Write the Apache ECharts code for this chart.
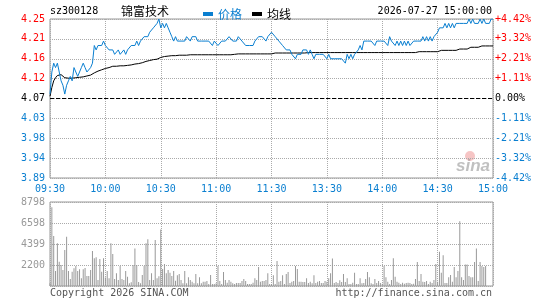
<!DOCTYPE html>
<html lang="en">
<head>
<meta charset="UTF-8">
<title>sz300128 分时</title>
<script src="https://cdn.jsdelivr.net/npm/echarts/dist/echarts.min.js"></script>
<style>
    body { margin: 0; background: #fff; }
    #chart { width: 545px; height: 300px; }
</style>
</head>
<body>
<div id="chart"></div>
<script>
// previous close and one grid step (price units)
var prevClose = 4.07;
var step = 0.045;

var priceTicks = ['3.89', '3.94', '3.98', '4.03', '4.07', '4.12', '4.16', '4.21', '4.25'];
var pctTicks = ['-4.42%', '-3.32%', '-2.21%', '-1.11%', '0.00%', '+1.11%', '+2.21%', '+3.32%', '+4.42%'];
var volTicks = ['', '2200', '4399', '6598', '8798'];

// last price per minute, 09:30 .. 15:00
var prices = [
    4.08,4.13,4.15,4.14,4.15,4.15,4.11,4.10,4.08,4.10,
    4.11,4.12,4.11,4.14,4.13,4.12,4.13,4.14,4.15,4.14,
    4.13,4.13,4.14,4.15,4.19,4.18,4.19,4.19,4.19,4.20,
    4.19,4.19,4.18,4.18,4.18,4.17,4.17,4.18,4.17,4.17,
    4.18,4.17,4.18,4.18,4.19,4.19,4.19,4.20,4.19,4.20,
    4.20,4.21,4.21,4.21,4.22,4.22,4.23,4.23,4.24,4.25,
    4.23,4.24,4.23,4.24,4.23,4.22,4.21,4.20,4.21,4.20,
    4.20,4.20,4.20,4.20,4.21,4.21,4.20,4.21,4.21,4.21,
    4.20,4.20,4.20,4.20,4.20,4.20,4.20,4.20,4.19,4.20,
    4.20,4.19,4.19,4.20,4.20,4.20,4.20,4.21,4.21,4.20,
    4.20,4.20,4.21,4.21,4.20,4.20,4.19,4.19,4.19,4.19,
    4.19,4.20,4.20,4.21,4.21,4.21,4.21,4.20,4.21,4.21,
    4.22,4.22,4.21,4.21,4.20,4.20,4.19,4.19,4.18,4.18,
    4.18,4.17,4.17,4.16,4.17,4.17,4.17,4.18,4.18,4.18,
    4.17,4.18,4.17,4.16,4.17,4.17,4.17,4.17,4.17,4.17,
    4.16,4.17,4.16,4.16,4.16,4.16,4.16,4.16,4.16,4.16,
    4.15,4.17,4.16,4.17,4.16,4.17,4.17,4.18,4.19,4.18,
    4.20,4.20,4.20,4.20,4.20,4.20,4.19,4.20,4.20,4.20,
    4.20,4.20,4.20,4.19,4.21,4.20,4.20,4.19,4.20,4.19,
    4.20,4.19,4.20,4.19,4.20,4.19,4.19,4.20,4.20,4.20,
    4.20,4.20,4.21,4.20,4.21,4.20,4.21,4.20,4.21,4.21,
    4.22,4.23,4.23,4.23,4.24,4.23,4.24,4.23,4.24,4.23,
    4.24,4.24,4.24,4.24,4.24,4.24,4.24,4.25,4.24,4.25,
    4.24,4.24,4.24,4.25,4.24,4.25,4.24,4.24,4.24,4.25,
    4.25
];

// average price line
var avgPrices = [
    4.075,4.095,4.110,4.117,4.122,4.124,4.124,4.120,4.117,4.116,
    4.116,4.116,4.116,4.117,4.117,4.117,4.118,4.118,4.119,4.120,
    4.121,4.122,4.123,4.125,4.128,4.131,4.132,4.134,4.135,4.137,
    4.138,4.139,4.140,4.142,4.143,4.143,4.143,4.144,4.144,4.144,
    4.144,4.145,4.145,4.145,4.146,4.147,4.148,4.149,4.149,4.150,
    4.151,4.152,4.154,4.155,4.156,4.156,4.158,4.159,4.159,4.161,
    4.163,4.164,4.165,4.165,4.166,4.166,4.167,4.167,4.167,4.168,
    4.168,4.168,4.168,4.168,4.168,4.168,4.169,4.169,4.169,4.169,
    4.169,4.169,4.169,4.169,4.169,4.169,4.169,4.169,4.169,4.169,
    4.169,4.169,4.169,4.169,4.169,4.169,4.169,4.169,4.169,4.169,
    4.170,4.170,4.171,4.171,4.171,4.171,4.171,4.171,4.171,4.171,
    4.171,4.171,4.171,4.171,4.171,4.171,4.171,4.171,4.171,4.171,
    4.171,4.172,4.173,4.173,4.173,4.173,4.173,4.173,4.173,4.173,
    4.173,4.173,4.173,4.173,4.173,4.173,4.173,4.173,4.173,4.173,
    4.174,4.174,4.174,4.174,4.174,4.174,4.174,4.174,4.174,4.174,
    4.174,4.174,4.174,4.174,4.174,4.174,4.174,4.174,4.174,4.174,
    4.174,4.174,4.174,4.174,4.174,4.174,4.174,4.174,4.174,4.174,
    4.174,4.174,4.174,4.174,4.174,4.174,4.174,4.174,4.174,4.174,
    4.174,4.174,4.174,4.174,4.174,4.174,4.174,4.174,4.174,4.174,
    4.174,4.174,4.174,4.174,4.174,4.174,4.174,4.174,4.174,4.174,
    4.176,4.176,4.176,4.176,4.176,4.176,4.176,4.176,4.176,4.176,
    4.176,4.179,4.179,4.179,4.179,4.179,4.179,4.179,4.179,4.179,
    4.179,4.179,4.182,4.182,4.182,4.182,4.182,4.186,4.186,4.186,
    4.186,4.186,4.186,4.186,4.189,4.189,4.189,4.189,4.189,4.189,
    4.189
];

// volume per minute (lots)
var volumes = [
    280,8240,5240,1570,4470,2550,2200,1680,3770,5170,
    1570,730,1500,1850,2090,1570,1750,800,1750,1880,
    1050,1050,1680,3660,2900,3000,630,2830,1500,2900,
    900,1570,800,4470,3350,730,1330,630,2090,730,
    630,1570,980,280,400,2200,3940,2200,420,280,
    1150,2090,4470,4890,630,1330,630,4820,800,1010,
    5930,1780,2300,1330,1680,1400,1050,1570,560,1120,
    1260,630,280,1570,280,910,630,450,280,1260,
    280,910,280,450,450,520,200,1150,210,210,
    280,2090,520,210,1470,630,350,630,450,280,
    210,310,310,310,520,730,520,210,210,210,
    350,800,630,1990,450,520,520,630,1330,210,
    210,1120,200,2620,450,520,1120,210,1260,1470,
    310,450,520,2090,1780,450,450,420,420,800,
    310,450,300,1120,310,450,520,310,310,520,
    450,800,1330,2890,310,420,310,590,420,1260,
    420,800,210,210,350,1400,200,210,800,280,
    310,730,1470,910,280,210,730,310,520,310,
    240,2090,910,450,210,630,2900,980,450,350,
    210,350,240,310,350,310,200,240,730,2510,
    520,1260,450,420,520,210,450,310,630,2300,
    450,3600,1400,3230,310,310,910,1150,450,2000,
    910,1570,6770,910,630,2240,2240,1050,910,910,
    2510,3940,520,2510,2090,2000,2090,0,0,0,
    0
];

// minute labels: 09:30-11:30, 13:01-15:00
function pad(n) { return (n < 10 ? '0' : '') + n; }
var times = [];
for (var t = 9 * 60 + 30; t <= 11 * 60 + 30; t++) times.push(pad(Math.floor(t / 60)) + ':' + pad(t % 60));
for (var t = 13 * 60 + 1; t <= 15 * 60; t++) times.push(pad(Math.floor(t / 60)) + ':' + pad(t % 60));

var RED = '#ff0000', BLUE = '#0a7fd0', GRAY = '#aaaaaa';
var MONO = 'DejaVu Sans Mono';
var CJK = 'Noto Sans CJK SC';

function toStep(p) { return (p - prevClose) / step; }
function sideColor(v) {
    var k = Math.round(v);
    return k > 0 ? RED : (k < 0 ? BLUE : '#000');
}

var dotted = { show: true, interval: 29, lineStyle: { color: GRAY, type: 'dotted', width: 1 } };

var chart = echarts.init(document.getElementById('chart'));
chart.setOption({
    animation: false,
    legend: {
        left: 198, top: 3,
        itemWidth: 10, itemHeight: 4, itemGap: 10,
        icon: 'rect',
        textStyle: { fontFamily: CJK, fontSize: 12 },
        data: [
            { name: '价格', textStyle: { color: BLUE } },
            { name: '均线', textStyle: { color: '#000' } }
        ]
    },
    grid: [
        { left: 50, right: 52, top: 19, height: 159, show: true, borderColor: '#999', borderWidth: 1 },
        { left: 50, right: 52, top: 202, height: 84, show: true, borderColor: '#999', borderWidth: 1 }
    ],
    xAxis: [
        {
            gridIndex: 0, type: 'category', data: times, boundaryGap: false,
            axisLine: { show: false }, axisTick: { show: false },
            axisLabel: { interval: 29, color: BLUE, fontFamily: MONO, fontSize: 10, margin: 6 },
            splitLine: dotted
        },
        {
            gridIndex: 1, type: 'category', data: times, boundaryGap: false,
            axisLine: { show: false }, axisTick: { show: false },
            axisLabel: { show: false },
            splitLine: dotted
        }
    ],
    yAxis: [
        {
            gridIndex: 0, type: 'value', min: -4, max: 4, interval: 1,
            axisLine: { show: false }, axisTick: { show: false },
            axisLabel: {
                margin: 5, fontFamily: MONO, fontSize: 10,
                formatter: function (v) { return priceTicks[Math.round(v) + 4]; },
                color: sideColor
            },
            splitLine: { lineStyle: { color: GRAY, type: 'dotted' } }
        },
        {
            gridIndex: 0, type: 'value', min: -4, max: 4, interval: 1, position: 'right',
            axisLine: { show: false }, axisTick: { show: false },
            axisLabel: {
                margin: 2, fontFamily: MONO, fontSize: 10,
                formatter: function (v) { return pctTicks[Math.round(v) + 4]; },
                color: sideColor
            },
            splitLine: { show: false }
        },
        {
            gridIndex: 1, type: 'value', min: 0, max: 8798, interval: 2199.5,
            axisLine: { show: false }, axisTick: { show: false },
            axisLabel: {
                margin: 5, fontFamily: MONO, fontSize: 10, color: '#999',
                formatter: function (v) { return volTicks[Math.round(v / 2199.5)]; }
            },
            splitLine: { lineStyle: { color: GRAY, type: 'dotted' } }
        }
    ],
    series: [
        {
            name: '价格', type: 'line', xAxisIndex: 0, yAxisIndex: 0,
            data: prices.map(toStep), showSymbol: false,
            lineStyle: { color: BLUE, width: 1 }, itemStyle: { color: BLUE },
            markLine: {
                silent: true, symbol: 'none', label: { show: false },
                lineStyle: { color: '#000', type: 'dashed', width: 1 },
                data: [{ yAxis: 0 }]
            },
            z: 3
        },
        {
            name: '均线', type: 'line', xAxisIndex: 0, yAxisIndex: 0,
            data: avgPrices.map(toStep), showSymbol: false,
            lineStyle: { color: '#000', width: 1 }, itemStyle: { color: '#000' },
            z: 2
        },
        {
            name: '成交量', type: 'bar', xAxisIndex: 1, yAxisIndex: 2,
            data: volumes, barWidth: 1,
            itemStyle: { color: '#999' }
        }
    ],
    graphic: [
        { type: 'text', x: 50, y: 11, style: { text: 'sz300128', font: '10px ' + MONO, fill: '#000', textVerticalAlign: 'middle' } },
        { type: 'text', x: 121, y: 11, style: { text: '锦富技术', font: '12px "' + CJK + '"', fill: '#000', textVerticalAlign: 'middle' } },
        { type: 'text', x: 492, y: 11, style: { text: '2026-07-27 15:00:00', font: '10px ' + MONO, fill: '#000', textAlign: 'right', textVerticalAlign: 'middle' } },
        { type: 'text', x: 50, y: 293, style: { text: 'Copyright 2026 SINA.COM', font: '10px ' + MONO, fill: '#555', textVerticalAlign: 'middle' } },
        { type: 'text', x: 492, y: 293, style: { text: 'http://finance.sina.com.cn', font: '10px ' + MONO, fill: '#555', textAlign: 'right', textVerticalAlign: 'middle' } },
        // sina watermark
        { type: 'circle', shape: { cx: 470, cy: 156, r: 5 }, style: { fill: 'rgba(230,90,90,0.35)' }, silent: true },
        { type: 'text', x: 473, y: 166, style: { text: 'sina', font: 'italic bold 17px Arial', fill: 'rgba(150,150,150,0.6)', textAlign: 'center', textVerticalAlign: 'middle' }, silent: true }
    ]
});
</script>
</body>
</html>
